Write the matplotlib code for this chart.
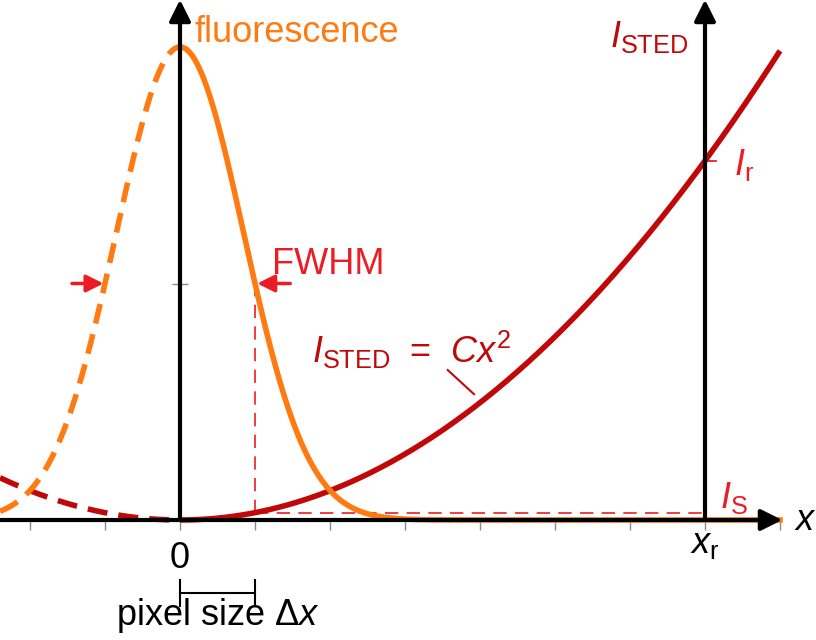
import numpy as np
import matplotlib
matplotlib.use('Agg')
import matplotlib.pyplot as plt

plt.rcParams['font.family'] = ['Liberation Sans', 'DejaVu Sans']
plt.rcParams['mathtext.fontset'] = 'custom'
plt.rcParams['mathtext.rm'] = 'Liberation Sans'
plt.rcParams['mathtext.it'] = 'Liberation Sans:italic'
plt.rcParams['mathtext.sf'] = 'Liberation Sans'

# values (x in pixel-size units, y normalised to the peak)
x_ticks = [-2, -1, 0, 1, 2, 3, 4, 5, 6, 7, 8]
y_ticks = [0.5, 1.0]
pixel_size = 1.0      # dx
fwhm = 2.0            # fluorescence spot width
x_r = 7.0             # position where I_STED = I_r
C = 0.0155            # I_STED = C x^2
x_left, x_right = -2.4, 8.0
x_arrow = 8.03

ORANGE = '#FF7A10'
DARKRED = '#C00808'
RED = '#EC1C24'

fig = plt.figure(figsize=(8.16, 6.4), dpi=100)
ax = fig.add_axes([0, 0, 1, 1])
ax.set_xlim(-2.4, -2.4 + 816 / 75)
ax.set_ylim((520 - 640) / 473, 520 / 473)

# curves
xs_pos = np.linspace(0, x_right, 400)
xs_neg = np.linspace(x_left, 0, 200)
fluo = lambda x: np.exp(-4 * np.log(2) * x**2 / fwhm**2)
sted = lambda x: C * x**2

dash = (0, (3.6, 2.0))
ax.plot(xs_neg, sted(xs_neg), color=DARKRED, lw=4, ls=dash, zorder=3)
ax.plot(xs_neg, fluo(xs_neg), color=ORANGE, lw=4, ls=dash, zorder=3)
ax.plot(xs_pos, sted(xs_pos), color=DARKRED, lw=4, zorder=3, solid_capstyle='butt')
ax.plot(xs_pos, fluo(xs_pos), color=ORANGE, lw=4, zorder=3)

# guide lines
I_s = sted(pixel_size)
I_r = sted(x_r)
ax.plot([pixel_size, x_r], [I_s, I_s], color=RED, lw=1.2, ls=(0, (8, 5)), zorder=2)
ax.plot([pixel_size, pixel_size], [I_s, 0.5], color=RED, lw=1.2, ls=(0, (8, 5)), zorder=2)
ax.plot([x_r, x_r + 0.15], [I_r, I_r], color=RED, lw=1.3, zorder=2)

# axes with arrow heads
arrow = dict(arrowstyle='-|>', lw=3, color='black', mutation_scale=32, shrinkA=0, shrinkB=0)
ax.annotate('', xy=(x_arrow, 0), xytext=(x_left, 0), arrowprops=arrow, zorder=4)
ax.annotate('', xy=(0, 1.1), xytext=(0, 0), arrowprops=arrow, zorder=4)
ax.annotate('', xy=(x_r, 1.1), xytext=(x_r, 0), arrowprops=arrow, zorder=4)

# ticks
for s in ax.spines.values():
    s.set_color('none')
ax.spines['bottom'].set_position(('data', 0))
ax.spines['left'].set_position(('data', 0))
ax.set_xticks(x_ticks)
ax.set_xticklabels([])
ax.set_yticks(y_ticks)
ax.set_yticklabels([])
ax.tick_params(axis='x', direction='out', length=7, width=1, color='#8a8a8a')
ax.tick_params(axis='y', direction='inout', length=12, width=1, color='#8a8a8a')

# FWHM arrows
red_arrow = dict(arrowstyle='-|>', lw=2.5, color=RED, mutation_scale=26, shrinkA=0, shrinkB=0)
ax.annotate('', xy=(1.03, 0.5), xytext=(1.47, 0.5), arrowprops=red_arrow, zorder=5)
ax.annotate('', xy=(-1.02, 0.5), xytext=(-1.44, 0.5), arrowprops=red_arrow, zorder=5)

# pixel size bracket
ax.plot([0, pixel_size], [-0.154, -0.154], color='black', lw=1.5)
ax.plot([0, 0], [-0.127, -0.181], color='black', lw=1.5)
ax.plot([pixel_size, pixel_size], [-0.127, -0.181], color='black', lw=1.5)

# texts
fs = 26
ax.text(0.2, 1.01, 'fluorescence', color=ORANGE, fontsize=fs, va='baseline')
ax.text(5.73, 1.0, r'$I_{\mathrm{STED}}$', color=DARKRED, fontsize=fs, va='baseline')
ax.text(7.38, 0.73, r'$I_{\mathrm{r}}$', color=RED, fontsize=fs, va='baseline')
ax.text(7.2, 0.025, r'$I_{\mathrm{S}}$', color=RED, fontsize=fs, va='baseline')
ax.text(8.19, -0.022, r'$x$', color='black', fontsize=fs, va='baseline')
ax.text(0, -0.102, '0', color='black', fontsize=fs, va='baseline', ha='center')
ax.text(x_r, -0.07, r'$x_{\mathrm{r}}$', color='black', fontsize=fs, va='baseline', ha='center')
ax.text(1.23, 0.52, 'FWHM', color=RED, fontsize=fs, va='baseline')
ax.text(1.76, 0.332, r'$I_{\mathrm{STED}}\;\,=\;\,Cx^2$', color=DARKRED, fontsize=fs, va='baseline')
ax.plot([3.57, 3.92], [0.317, 0.266], color=DARKRED, lw=1.5)
ax.text(0.5, -0.222, r'pixel size $\Delta x$', color='black', fontsize=fs, va='baseline', ha='center')

fig.savefig('out.png', dpi=100)
